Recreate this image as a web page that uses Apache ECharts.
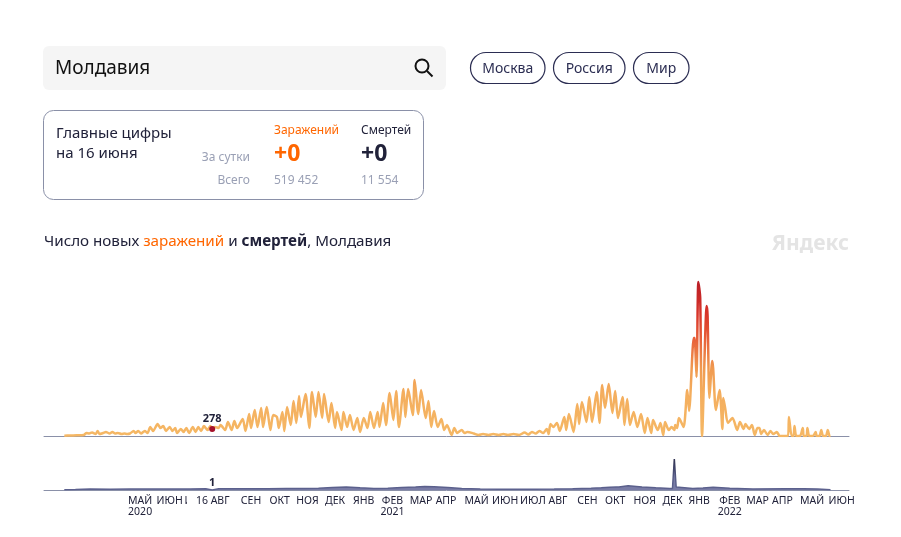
<!DOCTYPE html>
<html><head><meta charset="utf-8">
<style>html,body{margin:0;padding:0;background:#fff}#c{width:901px;height:537px}</style>
<script src="https://cdn.jsdelivr.net/npm/echarts@6/dist/echarts.min.js"></script>
</head><body><div id="c"></div>
<script>
// days since 9 March 2020, new infections
const caseDays=[0,6,13,21,24,27,30,34,36,38,42,45,49,52,55,58,62,65,68,71,75,77,80,83,87,90,93,96,101,104,107,110,114,117,120,122,126,129,132,135,139,142,145,148,151,155,158,160,163,167,169,174,177,181,184,187,193,196,200,202,206,209,213,215,219,223,226,230,232,236,238,241,245,248,251,254,256,261,265,268,272,275,279,281,286,289,293,295,300,302,306,309,313,317,320,324,328,331,335,339,341,345,348,352,356,359,362,367,369,372,377,379,383,386,391,394,397,400,404,408,411,414,419,422,425,430,433,436,443,448,453,459,464,470,475,480,486,492,498,502,506,510,514,518,522,524,526,529,533,536,541,543,546,551,555,557,560,565,568,571,576,579,582,585,589,593,596,599,604,606,609,612,616,620,624,628,631,635,637,642,645,648,650,654,657,660,661,663,665,670,674,676,681,682,684,686,688,690,695,696,698,701,702,705,709,712,713,715,718,723,728,731,735,737,741,744,747,750,752,754,757,761,764,767,771,774,783,784,787,789,790,792,796,799,800,803,804,806,810,813,814,817,819,821,824,826,828,829];
const cases=[12,20,28,40,120,100,140,80,200,80,120,160,100,160,100,120,80,100,80,100,200,120,200,100,200,120,360,200,480,320,400,200,360,200,320,120,280,160,320,120,360,160,360,200,400,240,400,278,360,320,440,240,560,240,600,320,680,200,880,320,1040,360,1120,360,1160,240,840,760,320,960,200,1160,440,1400,520,1600,760,1680,320,1760,760,1760,720,1680,560,1320,320,960,240,960,360,840,240,720,160,720,320,960,320,960,360,1320,440,1720,640,1800,360,1880,760,1880,840,2240,880,1840,720,1400,360,1000,360,680,240,440,40,320,120,240,120,160,100,40,80,40,80,40,80,40,80,40,140,60,160,100,200,120,280,80,480,360,520,200,760,240,880,160,1280,480,1360,560,1560,560,1760,520,2040,1120,2080,920,1800,720,1560,440,1480,440,960,360,880,120,720,120,640,240,520,40,560,240,360,240,440,320,720,360,1840,1000,3920,3920,2360,6160,5520,0,5200,4800,1520,3000,2720,1040,1840,280,1520,1120,520,720,240,560,280,480,280,440,40,320,320,80,240,40,200,80,160,0,0,760,0,0,400,0,0,320,0,0,320,0,0,160,0,0,240,0,0,240,0,4];
// days since 9 March 2020, new deaths
const deathDays=[0,12,28,50,71,93,115,136,153,160,167,200,220,240,260,275,290,305,320,335,350,365,380,390,400,415,430,450,470,490,510,530,550,570,581,590,597,598,600,610,625,640,655,658,659,660,661,662,664,680,691,702,720,745,780,800,815,829];
const deaths=[3,5,10,8,11,9,11,9,12,1,12,13,12,15,14,17,26,30,22,15,18,24,30,35,32,24,16,10,8,7,7,9,12,17,22,27,30,50,30,42,30,22,15,15,30,310,310,30,10,15,20,27,17,10,13,12,10,3];
// month labels along the bottom axis
const tickDays=[82,114,144,202,233,263,293,324,355,386,413,446,477,507,534,566,596,628,658,687,720,750,777,809,841];
const tickLabels=['МАЙ\n2020','ИЮН','ИЮЛ','СЕН','ОКТ','НОЯ','ДЕК','ЯНВ','ФЕВ\n2021','МАР','АПР','МАЙ','ИЮН','ИЮЛ','АВГ','СЕН','ОКТ','НОЯ','ДЕК','ЯНВ','ФЕВ\n2022','МАР','АПР','МАЙ','ИЮН'];
const hover={day:160,label:'16 АВГ',cases:278,deaths:1};
const regions=['Москва','Россия','Мир'];

const F='"Noto Sans", sans-serif',INK='#21223a',OR='#ff6600',GR='#9aa0b5',AX='#8a90a8';
const zip=(a,b)=>a.map((d,i)=>[d,b[i]]);
const t=(x,y,text,size,fill,extra)=>({type:'text',x,y,silent:true,style:Object.assign({text,font:`${size}px ${F}`,fill,textVerticalAlign:'middle'},extra||{})});
const pills=[[470,74.5],[553,71.5],[633,55.5]];
const chart=echarts.init(document.getElementById('c'),null,{renderer:'canvas'});
const xAxisBase={type:'value',min:-22,max:849,splitLine:{show:false},axisTick:{show:false},axisLine:{onZero:false,lineStyle:{color:AX,width:1}}};
chart.setOption({
 animation:false,backgroundColor:'#fff',
 title:{left:44,top:234,padding:0,text:'{a|Число новых }{o|заражений}{a| и }{b|смертей}{a|, Молдавия}',
  textStyle:{fontWeight:'normal',rich:{a:{fontSize:15.2,fontFamily:F,color:INK,fontWeight:'normal'},o:{fontSize:15.2,fontFamily:F,color:OR,fontWeight:'normal'},b:{fontSize:15.2,fontFamily:F,color:INK,fontWeight:'bold'}}}},
 grid:[{left:44,right:52,top:276,height:160},{left:44,right:52,top:450,height:40}],
 xAxis:[Object.assign({gridIndex:0,axisLabel:{show:false}},xAxisBase),
  Object.assign({gridIndex:1,axisLabel:{show:true,customValues:tickDays,hideOverlap:false,margin:6,fontSize:10.5,lineHeight:11,fontFamily:F,color:INK,
    formatter:v=>{const i=tickDays.indexOf(v);return i<0?'':tickLabels[i];}}},xAxisBase)],
 yAxis:[{type:'value',gridIndex:0,min:0,max:6400,show:false},{type:'value',gridIndex:1,min:0,max:400,show:false}],
 series:[
  {type:'line',xAxisIndex:0,yAxisIndex:0,data:zip(caseDays,cases),showSymbol:false,smooth:0.25,
   lineStyle:{width:2.5,join:'round',color:new echarts.graphic.LinearGradient(0,0,0,1,[{offset:0,color:'#b81c26'},{offset:.22,color:'#d8352a'},{offset:.38,color:'#e8623a'},{offset:.56,color:'#f09a50'},{offset:.72,color:'#f4ae5e'},{offset:1,color:'#f5b865'}])},
   markPoint:{silent:true,data:[{coord:[hover.day,hover.cases],symbol:'circle',symbolSize:6,itemStyle:{color:'#a5102a'},
     label:{show:true,position:'top',distance:2,formatter:String(hover.cases),fontFamily:F,fontSize:11,fontWeight:'bold',color:INK}}]}},
  {type:'line',xAxisIndex:1,yAxisIndex:1,data:zip(deathDays,deaths),showSymbol:false,
   lineStyle:{width:1.5,color:new echarts.graphic.LinearGradient(0,0,0,1,[{offset:0,color:'#2b2d4a'},{offset:.6,color:'#555a85'},{offset:1,color:'#5e6390'}])},
   areaStyle:{color:'#6a6e9c',opacity:.9},
   markPoint:{silent:true,data:[
    {coord:[hover.day,0],symbol:'circle',symbolSize:0,label:{show:true,position:'bottom',distance:5,offset:[-2,0],formatter:hover.label,fontFamily:F,fontSize:10.5,color:INK,backgroundColor:'#fff',padding:[1,4,1,9]}},
    {coord:[hover.day,hover.deaths],symbol:'circle',symbolSize:0,label:{show:true,position:'top',distance:2,formatter:String(hover.deaths),fontFamily:F,fontSize:11,fontWeight:'bold',color:INK}}]}}
 ],
 graphic:[
  {type:'rect',silent:true,shape:{x:43,y:46,width:403,height:44,r:6},style:{fill:'#f5f5f5'}},
  t(55,69,'Молдавия',19,'#111'),
  {type:'circle',silent:true,shape:{cx:422,cy:66,r:6.5},style:{fill:'none',stroke:'#111',lineWidth:2}},
  {type:'line',silent:true,shape:{x1:427,y1:71,x2:432.5,y2:76.5},style:{stroke:'#111',lineWidth:2}},
  ...pills.flatMap((p,i)=>[
   {type:'rect',silent:true,shape:{x:p[0]+.5,y:52.5,width:p[1],height:31,r:15.5},style:{fill:'#fff',stroke:'#2b2d52',lineWidth:1.2}},
   t(p[0]+p[1]/2+.5,69,regions[i],14,'#2b2d52',{textAlign:'center'})]),
  {type:'rect',silent:true,shape:{x:43.5,y:110.5,width:380,height:89,r:10},style:{fill:'#fff',stroke:AX,lineWidth:1}},
  t(56,134,'Главные цифры',15,INK),t(56,154,'на 16 июня',15,INK),
  t(250,158,'За сутки',12,GR,{textAlign:'right'}),t(250,181,'Всего',12,GR,{textAlign:'right'}),
  t(274,131,'Заражений',12,OR),t(361,131,'Смертей',12,INK),
  {type:'text',x:274,y:154,silent:true,style:{text:'+0',font:`bold 23px ${F}`,fill:OR,textVerticalAlign:'middle'}},
  {type:'text',x:361,y:154,silent:true,style:{text:'+0',font:`bold 23px ${F}`,fill:INK,textVerticalAlign:'middle'}},
  t(274,181,'519 452',12,GR),t(361,181,'11 554',12,GR),
  {type:'text',x:849,y:244,silent:true,style:{text:'Яндекс',font:`bold 21px ${F}`,fill:'#e4e4e4',textAlign:'right',textVerticalAlign:'middle'}}
 ]
});
</script></body></html>
